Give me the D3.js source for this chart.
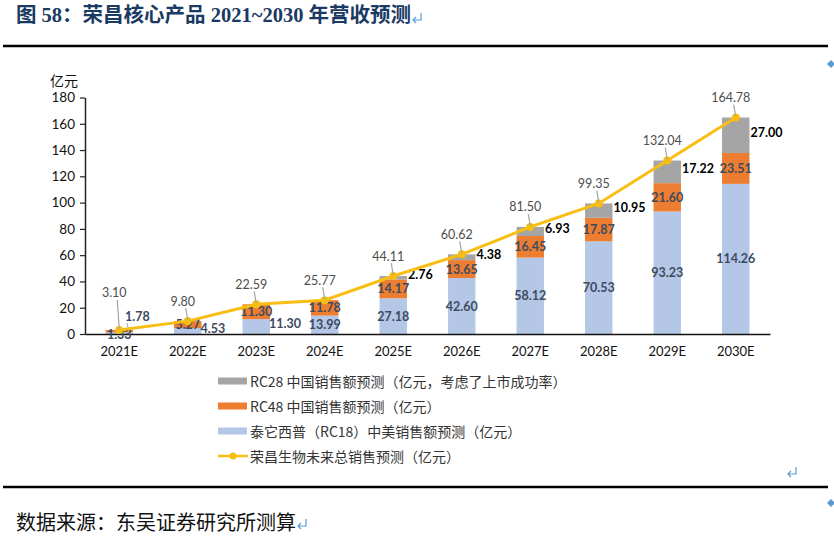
<!DOCTYPE html>
<html>
<head>
<meta charset="utf-8">
<script src="https://cdn.jsdelivr.net/npm/d3@7"></script>
<style>
  html, body { margin: 0; padding: 0; background: #fff; }
  svg { display: block; }
</style>
</head>
<body>
<svg id="chart" width="834" height="538"></svg>
<script>
// values
const years = ["2021E", "2022E", "2023E", "2024E", "2025E", "2026E", "2027E", "2028E", "2029E", "2030E"];
const rc18 = [1.33, 4.53, 11.30, 13.99, 27.18, 42.60, 58.12, 70.53, 93.23, 114.26];
const rc48 = [1.78, 5.27, 11.30, 11.78, 14.17, 13.65, 16.45, 17.87, 21.60, 23.51];
const rc28 = [0, 0, 0, 0, 2.76, 4.38, 6.93, 10.95, 17.22, 27.00];
const total = [3.10, 9.80, 22.59, 25.77, 44.11, 60.62, 81.50, 99.35, 132.04, 164.78];
const yTicks = [0, 20, 40, 60, 80, 100, 120, 140, 160, 180];
const legendNames = [
    "RC28 中国销售额预测（亿元，考虑了上市成功率）",
    "RC48 中国销售额预测（亿元）",
    "泰它西普（RC18）中美销售额预测（亿元）",
    "荣昌生物未来总销售预测（亿元）"
];

const colors = {rc18: "#B4C7E7", rc48: "#ED7D31", rc28: "#A5A5A5", line: "#F8BE12"};
const numFont = "Lato, 'Noto Sans', sans-serif";
const cjkFont = "'Noto Sans CJK SC', sans-serif";

const svg = d3.select("#chart");

const retMark = (x, y) => {
    svg.append("path")
        .attr("d", `M${x + 9},${y - 7} V${y} H${x + 1} M${x + 4},${y - 3} L${x + 1},${y} L${x + 4},${y + 3}`)
        .attr("fill", "none").attr("stroke", "#5B9BD5").attr("stroke-width", 1.2);
};

// page furniture
const title = svg.append("text")
    .attr("x", 16).attr("y", 22)
    .attr("font-family", "'Liberation Serif', 'Noto Sans CJK SC', serif")
    .attr("font-weight", "bold").attr("font-size", 20.5)
    .attr("fill", "#1B3A63")
    .text("图 58：荣昌核心产品 2021~2030 年营收预测");
retMark(16 + title.node().getComputedTextLength() + 1, 20);

svg.append("line").attr("x1", 3).attr("x2", 828).attr("y1", 46).attr("y2", 46)
    .attr("stroke", "#000").attr("stroke-width", 2.5);
svg.append("line").attr("x1", 3).attr("x2", 828).attr("y1", 487).attr("y2", 487)
    .attr("stroke", "#000").attr("stroke-width", 2.5);

const source = svg.append("text")
    .attr("x", 16).attr("y", 530)
    .attr("font-family", cjkFont).attr("font-size", 20).attr("fill", "#111")
    .text("数据来源：东吴证券研究所测算");
retMark(16 + source.node().getComputedTextLength() + 1, 526);
retMark(787, 474);
[[831, 64], [831, 503]].forEach(([x, y]) => {
    svg.append("path").attr("d", `M${x},${y - 4} L${x + 4},${y} L${x},${y + 4} L${x - 4},${y} Z`)
        .attr("fill", "#5B9BD5");
});

// scales
const x = d3.scaleBand().domain(years).range([85, 770]).padding(0);
const y = d3.scaleLinear().domain([0, 180]).range([334, 97.5]);
const barW = x.bandwidth() * 0.4;
const cx = d => x(d) + x.bandwidth() / 2;

// y axis
const yAxis = svg.append("g").attr("transform", "translate(85,0)")
    .call(d3.axisLeft(y).tickValues(yTicks).tickSize(5).tickPadding(5).tickSizeOuter(0));
yAxis.select(".domain").attr("stroke", "#222").attr("stroke-width", 1.5);
yAxis.selectAll(".tick line").attr("stroke", "#222").attr("stroke-width", 1.2);
yAxis.selectAll(".tick text").attr("font-family", numFont).attr("font-size", 13.5).attr("fill", "#111");

svg.append("text").attr("x", 64).attr("y", 86).attr("text-anchor", "middle")
    .attr("font-family", cjkFont).attr("font-size", 14).attr("fill", "#111").text("亿元");

// stacked bars
const table = years.map((yr, i) => ({year: yr, rc18: rc18[i], rc48: rc48[i], rc28: rc28[i]}));
const keys = ["rc18", "rc48", "rc28"];
const stacked = d3.stack().keys(keys)(table);

svg.append("g").selectAll("g").data(stacked).join("g")
    .attr("fill", s => colors[s.key])
    .selectAll("rect").data(s => s).join("rect")
    .attr("x", d => cx(d.data.year) - barW / 2)
    .attr("width", barW)
    .attr("y", d => y(d[1]))
    .attr("height", d => y(d[0]) - y(d[1]));

// x axis
const xAxis = svg.append("g").attr("transform", "translate(0,334)")
    .call(d3.axisBottom(x).tickSize(0).tickPadding(13));
xAxis.select(".domain").attr("stroke", "#111").attr("stroke-width", 1.6);
xAxis.selectAll(".tick text").attr("font-family", numFont).attr("font-size", 13).attr("fill", "#111");

// label placement tweaks for the small early bars (layout only)
const outside = {rc48: ["2021E"], rc18: ["2022E", "2023E"]};
const inColor = "#3E4B5E";

const labels = svg.append("g").attr("font-family", numFont);
stacked.forEach(s => {
    s.forEach(d => {
        const v = d.data[s.key];
        if (!v) return;
        const yr = d.data.year;
        const mid = y((d[0] + d[1]) / 2);
        if (s.key === "rc28") {
            labels.append("text")
                .attr("x", cx(yr) + barW / 2 + 1).attr("y", mid - 3)
                .attr("dominant-baseline", "central")
                .attr("font-size", 12.5).attr("font-weight", "bold").attr("fill", "#000")
                .text(v.toFixed(2));
        } else if ((outside[s.key] || []).includes(yr)) {
            const lx = s.key === "rc48" ? cx(yr) + barW / 2 - 8 : cx(yr) + barW / 2 - 1;
            const ly = s.key === "rc48" ? mid - 15 : mid - 3;
            labels.append("text")
                .attr("x", lx).attr("y", ly)
                .attr("dominant-baseline", "central")
                .attr("font-size", 12.5).attr("font-weight", "bold").attr("fill", inColor)
                .text(v.toFixed(2));
            if (s.key === "rc48") {
                labels.append("line")
                    .attr("x1", lx + 2).attr("y1", ly + 7)
                    .attr("x2", cx(yr) + barW / 2 - 4).attr("y2", mid + 1)
                    .attr("stroke", "#A5A5A5").attr("stroke-width", 1);
            }
        } else {
            labels.append("text")
                .attr("x", cx(yr)).attr("y", mid - (s.key === "rc18" && yr === "2021E" ? -1 : 0))
                .attr("text-anchor", "middle").attr("dominant-baseline", "central")
                .attr("font-size", 12.5).attr("font-weight", "bold").attr("fill", inColor)
                .text(v.toFixed(2));
        }
    });
});

// total line
const pts = years.map((yr, i) => [cx(yr), y(total[i])]);
svg.append("path")
    .attr("d", d3.line()(pts))
    .attr("fill", "none").attr("stroke", colors.line).attr("stroke-width", 3);
svg.append("g").selectAll("circle").data(pts).join("circle")
    .attr("cx", d => d[0]).attr("cy", d => d[1]).attr("r", 4)
    .attr("fill", colors.line);

// total labels with leader lines
const totals = svg.append("g").attr("font-family", numFont);
years.forEach((yr, i) => {
    const [px, py] = pts[i];
    const dy = i === 0 ? -37 : -20;
    const lx = px - 5, ly = py + dy;
    totals.append("line")
        .attr("x1", lx + 3).attr("y1", ly + 7)
        .attr("x2", px).attr("y2", py - 1)
        .attr("stroke", "#A5A5A5").attr("stroke-width", 1.2);
    totals.append("text")
        .attr("x", lx).attr("y", ly)
        .attr("text-anchor", "middle").attr("dominant-baseline", "central")
        .attr("font-size", 12.5).attr("fill", "#4D4D4D")
        .text(total[i].toFixed(2));
});

// legend
const legend = svg.append("g").attr("transform", "translate(218,0)");
const legRows = [
    {name: legendNames[0], color: colors.rc28, y: 381},
    {name: legendNames[1], color: colors.rc48, y: 406},
    {name: legendNames[2], color: colors.rc18, y: 431},
    {name: legendNames[3], color: colors.line, y: 456, line: true}
];
legRows.forEach(r => {
    if (r.line) {
        legend.append("line").attr("x1", 0).attr("x2", 30).attr("y1", r.y).attr("y2", r.y)
            .attr("stroke", r.color).attr("stroke-width", 2.5);
        legend.append("circle").attr("cx", 15).attr("cy", r.y).attr("r", 3.5).attr("fill", r.color);
    } else {
        legend.append("rect").attr("x", 0).attr("y", r.y - 3.5).attr("width", 29).attr("height", 7)
            .attr("fill", r.color);
    }
    legend.append("text").attr("x", 32).attr("y", r.y)
        .attr("dominant-baseline", "central")
        .attr("font-family", cjkFont).attr("font-size", 14).attr("fill", "#333")
        .text(r.name);
});
</script>
</body>
</html>
